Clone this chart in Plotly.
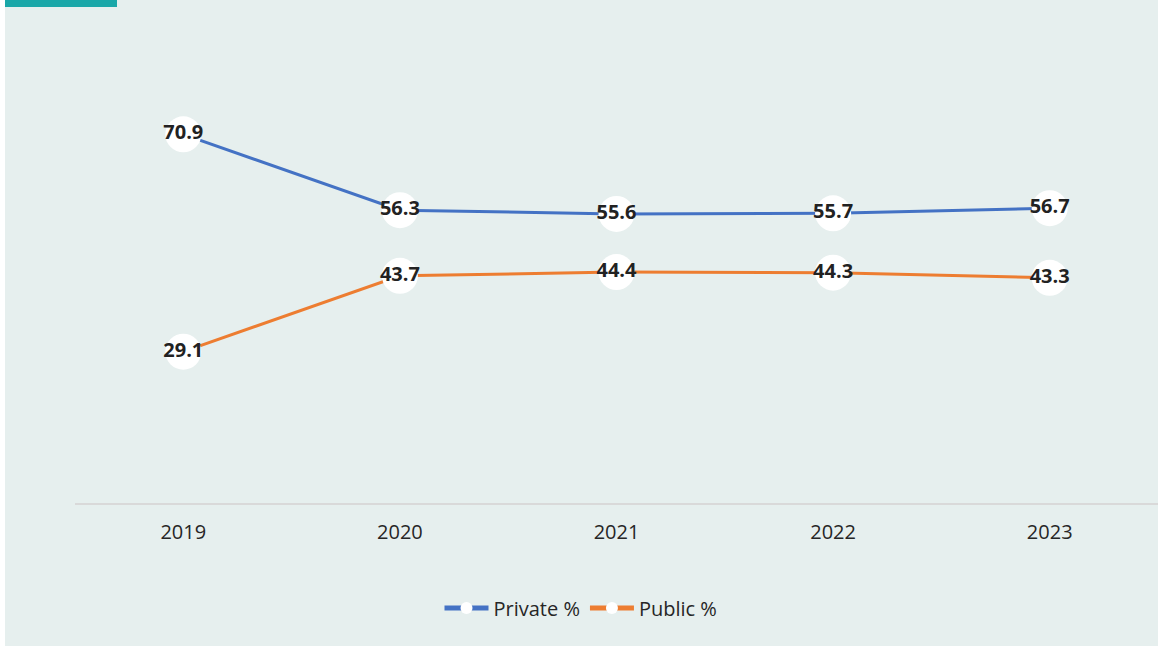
import plotly.graph_objects as go

years = ["2019", "2020", "2021", "2022", "2023"]
private_pct = [70.9, 56.3, 55.6, 55.7, 56.7]
public_pct = [29.1, 43.7, 44.4, 44.3, 43.3]

BG = "#E6EFEE"
W, H = 1158, 646
ML, MR, MT, MB = 75, 0, 87, 143

fig = go.Figure()
for name, vals, col in [("Private %", private_pct, "#4472C4"), ("Public %", public_pct, "#ED7D31")]:
    fig.add_trace(go.Scatter(
        x=years, y=vals, name=name, mode="lines+markers+text",
        line=dict(color=col, width=3),
        marker=dict(size=36, color="white", line=dict(width=0)),
        text=[f"{v:.1f}" for v in vals], textposition="middle center",
        textfont=dict(family="Open Sans", size=20, color="#222222", weight="bold"),
        cliponaxis=False,
    ))

pw = W - ML - MR
ph = H - MT - MB
def px_x(p): return (p - ML) / pw
def px_y(p): return (H - MB - p) / ph

shapes = [
    dict(type="rect", xref="paper", yref="paper", x0=px_x(0), x1=px_x(5), y0=px_y(H), y1=px_y(0),
         fillcolor="white", line=dict(width=0), layer="below"),
    dict(type="rect", xref="paper", yref="paper", x0=px_x(5), x1=px_x(117), y0=px_y(7), y1=px_y(0),
         fillcolor="#1AA7A8", line=dict(width=0), layer="below"),
]

fig.update_layout(
    width=W, height=H,
    margin=dict(l=ML, r=MR, t=MT, b=MB),
    paper_bgcolor=BG, plot_bgcolor=BG,
    font=dict(family="Open Sans", size=20, color="#262626"),
    shapes=shapes,
    showlegend=True,
    legend=dict(orientation="h", x=px_x(581), xanchor="center", y=px_y(608), yanchor="middle",
                font=dict(size=20, color="#262626"), itemsizing="constant",
                bgcolor="rgba(0,0,0,0)", tracegroupgap=0, itemwidth=44),
    xaxis=dict(type="category", range=[-0.5, 4.5], showgrid=False, zeroline=False,
               showline=True, linecolor="#D9D9D9", linewidth=2, ticks="",
               tickfont=dict(size=20, color="#262626"), ticklabelstandoff=10),
    yaxis=dict(range=[0, 80], showgrid=False, zeroline=False, showline=False,
               showticklabels=False, ticks=""),
)

fig.write_html("out.html", config={"displayModeBar": False},
               post_script="document.body.style.margin='0';document.body.style.overflow='hidden';")
